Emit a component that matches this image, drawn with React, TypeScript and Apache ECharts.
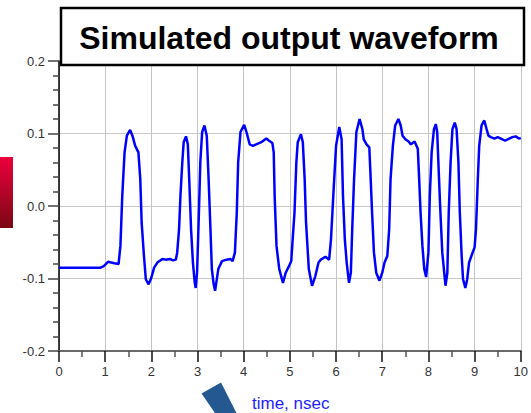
import React, { useEffect, useRef } from "react";
import * as echarts from "echarts";

const times = [
  0.0, 0.9, 0.97, 1.06, 1.13, 1.2, 1.29, 1.33, 1.37, 1.42, 1.47, 1.54, 1.59, 1.65, 1.72, 1.76, 1.79, 1.84, 1.88, 1.94,
  2.0, 2.06, 2.13, 2.24, 2.31, 2.4, 2.47, 2.53, 2.56, 2.6, 2.63, 2.67, 2.7, 2.75, 2.79, 2.82, 2.86, 2.9, 2.94, 2.96,
  2.99, 3.03, 3.06, 3.1, 3.15, 3.2, 3.24, 3.28, 3.31, 3.35, 3.38, 3.45, 3.53, 3.63, 3.71, 3.76, 3.81, 3.85, 3.88, 3.93,
  4.01, 4.06, 4.13, 4.2, 4.27, 4.38, 4.49, 4.55, 4.62, 4.65, 4.67, 4.71, 4.77, 4.85, 4.91, 4.98, 5.03, 5.06, 5.1, 5.14,
  5.17, 5.24, 5.28, 5.32, 5.35, 5.41, 5.48, 5.55, 5.62, 5.67, 5.77, 5.85, 5.89, 5.94, 6.0, 6.07, 6.12, 6.15, 6.19, 6.23,
  6.28, 6.32, 6.35, 6.39, 6.44, 6.51, 6.57, 6.6, 6.66, 6.72, 6.75, 6.78, 6.82, 6.87, 6.94, 7.0, 7.05, 7.11, 7.15, 7.18,
  7.23, 7.28, 7.35, 7.4, 7.44, 7.5, 7.57, 7.62, 7.7, 7.77, 7.8, 7.83, 7.87, 7.91, 7.95, 8.0, 8.03, 8.07, 8.12, 8.16,
  8.19, 8.23, 8.26, 8.3, 8.37, 8.41, 8.44, 8.48, 8.52, 8.57, 8.61, 8.65, 8.68, 8.72, 8.75, 8.8, 8.84, 8.88, 8.93, 9.0,
  9.03, 9.07, 9.1, 9.15, 9.21, 9.26, 9.3, 9.35, 9.43, 9.5, 9.57, 9.66, 9.75, 9.82, 9.89, 9.96, 10.0,
];

const volts = [
  -0.085, -0.085, -0.083, -0.077, -0.078, -0.079, -0.08, -0.055, 0.014, 0.074, 0.097, 0.105, 0.097, 0.083, 0.074, 0.037, -0.023, -0.069, -0.101, -0.108,
  -0.099, -0.085, -0.078, -0.073, -0.074, -0.073, -0.075, -0.074, -0.064, -0.032, 0.014, 0.06, 0.088, 0.096, 0.085, 0.037, -0.032, -0.078, -0.106, -0.113,
  -0.092, -0.009, 0.06, 0.102, 0.111, 0.097, 0.037, -0.032, -0.087, -0.108, -0.117, -0.087, -0.076, -0.074, -0.073, -0.076, -0.064, -0.009, 0.06, 0.102,
  0.112, 0.102, 0.085, 0.083, 0.085, 0.088, 0.093, 0.09, 0.087, 0.074, 0.014, -0.055, -0.087, -0.106, -0.092, -0.083, -0.076, -0.046, -0.009, 0.06,
  0.088, 0.099, 0.088, 0.037, -0.023, -0.087, -0.11, -0.097, -0.078, -0.074, -0.07, -0.074, -0.046, 0.014, 0.083, 0.109, 0.092, 0.014, -0.046, -0.078,
  -0.106, -0.092, -0.032, 0.037, 0.102, 0.12, 0.106, 0.092, 0.085, 0.081, 0.037, -0.009, -0.064, -0.092, -0.103, -0.092, -0.078, -0.069, -0.032, 0.037,
  0.083, 0.111, 0.12, 0.111, 0.097, 0.092, 0.089, 0.085, 0.089, 0.079, 0.037, -0.009, -0.055, -0.087, -0.098, -0.064, 0.014, 0.074, 0.106, 0.113,
  0.102, 0.037, -0.009, -0.064, -0.11, -0.092, -0.009, 0.06, 0.106, 0.115, 0.106, 0.06, -0.009, -0.069, -0.101, -0.113, -0.101, -0.078, -0.069, -0.057,
  -0.032, 0.037, 0.083, 0.111, 0.118, 0.106, 0.097, 0.095, 0.093, 0.095, 0.093, 0.09, 0.093, 0.095, 0.096, 0.093, 0.094,
];

const titleText = "Simulated output waveform";
const xAxisName = "time, nsec";

export default function App() {
  const ref = useRef<HTMLDivElement>(null);
  useEffect(() => {
    if (!ref.current) return;
    const chart = echarts.init(ref.current, null, { renderer: "svg" });
    const data = times.map((t, i) => [t, volts[i]]);
    const font = "'Liberation Sans', Arial, sans-serif";
    chart.setOption({
      animation: false,
      backgroundColor: "#ffffff",
      grid: { left: 59, right: 2, top: 61, bottom: 62, containLabel: false },
      xAxis: {
        type: "value",
        min: 0,
        max: 10,
        interval: 1,
        axisLine: { show: true, onZero: false, lineStyle: { color: "#6a6a6a", width: 2 } },
        axisTick: { show: true, length: 11, lineStyle: { color: "#111", width: 1.5 } },
        minorTick: { show: true, splitNumber: 2, length: 6, lineStyle: { color: "#555", width: 1.5 } },
        axisLabel: { fontSize: 13, color: "#333", margin: 14, fontFamily: font },
        splitLine: { show: true, lineStyle: { color: "#c4c4c4", width: 1 } },
      },
      yAxis: {
        type: "value",
        min: -0.2,
        max: 0.2,
        interval: 0.1,
        axisLine: { show: true, onZero: false, lineStyle: { color: "#000", width: 1.5 } },
        axisTick: { show: true, length: 11, lineStyle: { color: "#444", width: 1.5 } },
        minorTick: { show: true, splitNumber: 5, length: 6, lineStyle: { color: "#444", width: 1.5 } },
        axisLabel: {
          fontSize: 13,
          color: "#333",
          margin: 14,
          fontFamily: font,
          formatter: (v: number) => (Math.abs(v) < 1e-9 ? "0.0" : v.toFixed(1)),
        },
        splitLine: { show: true, lineStyle: { color: "#c8c8c8", width: 1 } },
      },
      series: [
        {
          type: "line",
          data,
          showSymbol: false,
          symbol: "none",
          lineStyle: { color: "#0000ff", width: 2.5 },
          z: 5,
        },
      ],
      graphic: [
        {
          type: "rect",
          z: 100,
          shape: { x: 61, y: 8, width: 463, height: 57 },
          style: { fill: "#ffffff", stroke: "#000000", lineWidth: 2.5 },
        },
        {
          type: "text",
          z: 101,
          x: 289,
          y: 38,
          style: {
            text: titleText,
            textAlign: "center",
            textVerticalAlign: "middle",
            fontSize: 32,
            fontWeight: "bold",
            fontFamily: font,
            fill: "#000000",
          },
        },
        {
          type: "rect",
          z: 100,
          shape: { x: 0, y: 157, width: 13, height: 71 },
          style: {
            fill: new echarts.graphic.LinearGradient(0, 0, 0, 1, [
              { offset: 0, color: "#ec003c" },
              { offset: 1, color: "#7a0814" },
            ]),
          },
        },
        {
          type: "polygon",
          z: 100,
          shape: { points: [[201.5, 393.5], [221, 382.5], [238, 416], [217, 416]] },
          style: { fill: "#245890" },
        },
        {
          type: "text",
          z: 101,
          x: 252,
          y: 403,
          style: {
            text: xAxisName,
            textAlign: "left",
            textVerticalAlign: "middle",
            fontSize: 17,
            fontFamily: font,
            fill: "#1e1eff",
          },
        },
      ],
    });
    return () => chart.dispose();
  }, []);
  return (
    <div
      ref={ref}
      style={{ position: "fixed", left: 0, top: 0, width: 531, height: 413, background: "#fff" }}
    />
  );
}
